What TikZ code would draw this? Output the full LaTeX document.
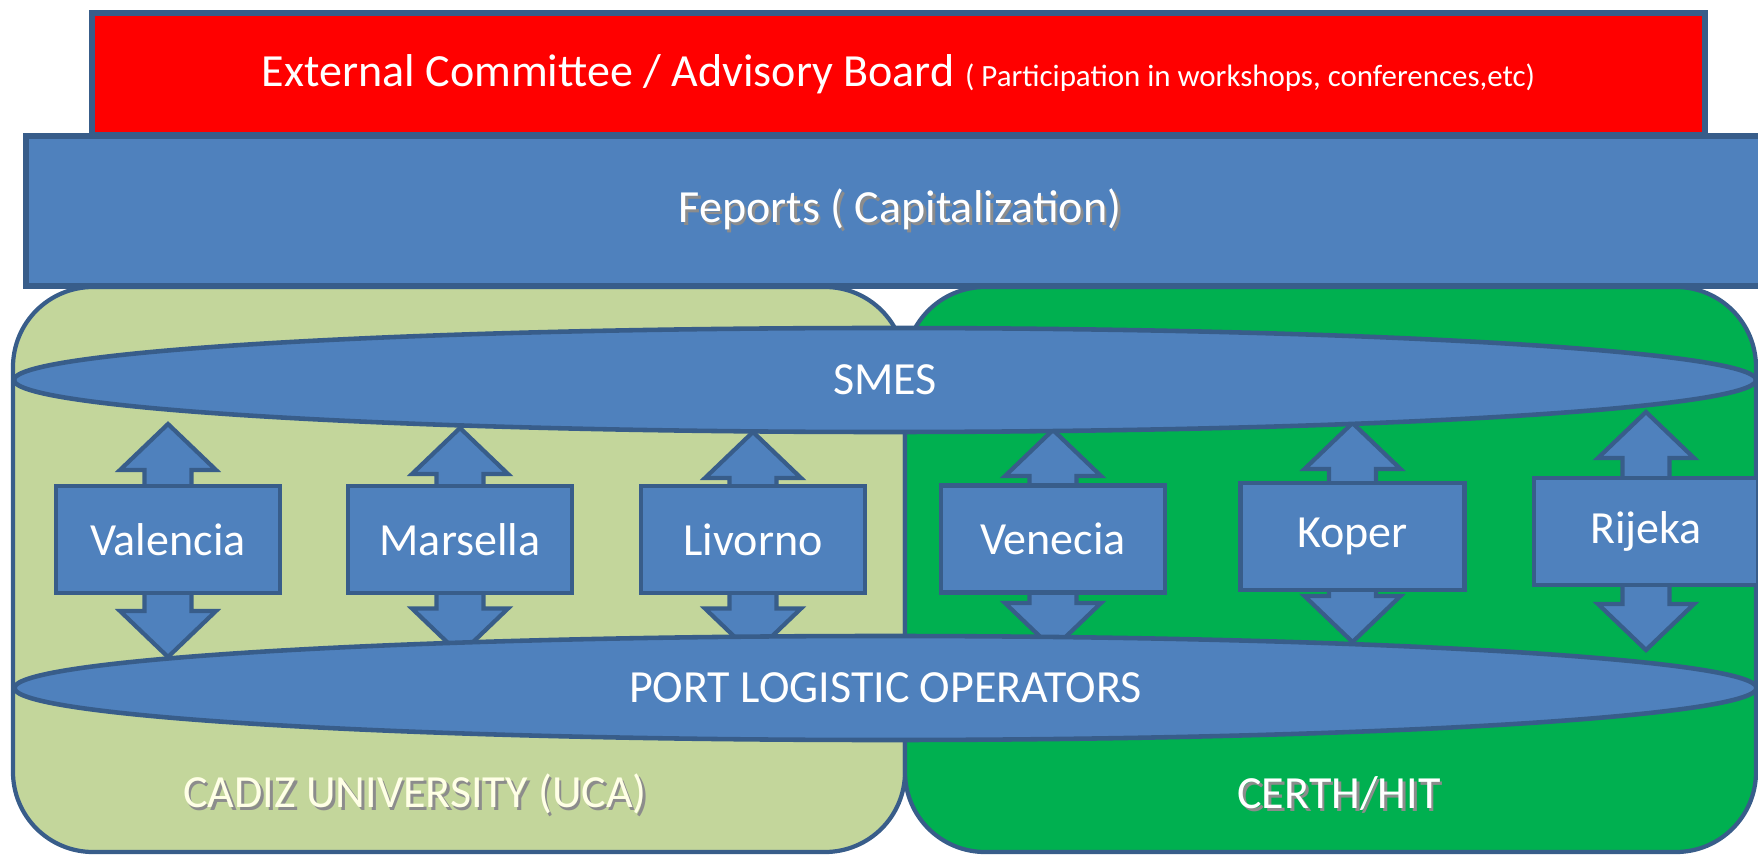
\documentclass[tikz,border=0pt]{standalone}
\usepackage{fontspec}
\setmainfont{Carlito}
\usepackage{tikz}
\usetikzlibrary{shapes.geometric,positioning}
\definecolor{boardred}{HTML}{FF0000}
\definecolor{portblue}{HTML}{4F81BD}
\definecolor{edgeblue}{HTML}{385D8A}
\definecolor{ucagreen}{HTML}{C3D69B}
\definecolor{certhgreen}{HTML}{00B050}
\definecolor{creamtext}{HTML}{FFFFE6}

\pgfdeclarelayer{regions}
\pgfdeclarelayer{links}
\pgfsetlayers{regions,links,main}

% text with a soft drop shadow
\newcommand\shadowtext[1]{\makebox[0pt][l]{\hspace{0.8pt}\raisebox{-0.8pt}{\textcolor{black!45}{#1}}}#1}

\begin{document}
\begin{tikzpicture}
  \tikzset{big/.style = {font=\fontsize{13.1}{16}\selectfont}}
  \tikzset{bar/.style = {rectangle, draw=edgeblue, line width=1.6pt, text=white, inner sep=0pt, big}}
  \tikzset{group/.style = {rectangle, draw=edgeblue, line width=1.2pt, rounded corners=0.8cm, minimum height=5.65cm}}
  \tikzset{layer/.style = {ellipse, draw=edgeblue, line width=1.3pt, fill=portblue, text=white, minimum width=17.42cm, minimum height=1.04cm, inner sep=0pt, big}}
  \tikzset{port/.style = {rectangle, draw=edgeblue, line width=1.3pt, fill=portblue, text=white, minimum width=2.24cm, minimum height=1.07cm, inner sep=0pt, big}}
  \tikzset{blockarrow/.style = {draw=edgeblue, line width=1.2pt, fill=portblue, line join=miter}}

  \useasboundingbox (0,0) rectangle (17.58,8.54);

  % partners
  \begin{pgfonlayer}{regions}
    \node[group, fill=ucagreen, minimum width=8.92cm] (uca) at (4.59,2.845) {};
    \node[group, fill=certhgreen, minimum width=8.51cm] (certh) at (13.305,2.845) {};
  \end{pgfonlayer}
  \node[big, text=creamtext] (ucaname) at (4.15,0.59) {\shadowtext{CADIZ UNIVERSITY (UCA)}};
  \node[big, text=white] (certhname) at (13.39,0.59) {\shadowtext{CERTH/HIT}};

  \node[bar, fill=boardred, minimum width=16.13cm, minimum height=1.22cm] (board) at (8.985,7.80)
    {External Committee / Advisory Board {\fontsize{8.8}{11}\selectfont ( Participation in workshops, conferences,etc)}};
  \node[bar, fill=portblue, minimum width=17.48cm, minimum height=1.50cm] (feports) at (9.0,6.43)
    {\shadowtext{Feports ( Capitalization)}};

  \node[layer] (smes) at (8.85,4.74) {SMES};
  \node[layer] (plo) at (8.855,1.66) {PORT LOGISTIC OPERATORS};

  \node[port] (valencia) at (1.68,3.145) {Valencia};
  \node[port] (marsella) at (4.60,3.145) {Marsella};
  \node[port] (livorno) at (7.53,3.145) {Livorno};
  \node[port] (venecia) at (10.53,3.15) {Venecia};
  \node[port] (koper) at (13.525,3.175) {Koper};
  \node[port] (rijeka) at (16.46,3.225) {Rijeka};

  % up/down links between each port and the two layers
  \begin{pgfonlayer}{links}
    \foreach \port/\up/\down in {valencia/1.155/1.175, marsella/1.115/1.15, livorno/1.075/1.15,
                                 venecia/1.09/1.10, koper/1.135/1.055, rijeka/1.195/1.185}
    \draw[blockarrow, shift={(\port.center)}] (0,\up) -- (0.48,\up-0.46) -- (0.235,\up-0.46)
      -- (0.235,0.46-\down) -- (0.48,0.46-\down) -- (0,-\down) -- (-0.48,0.46-\down)
      -- (-0.235,0.46-\down) -- (-0.235,\up-0.46) -- (-0.48,\up-0.46) -- cycle;
  \end{pgfonlayer}

\end{tikzpicture}
\end{document}
